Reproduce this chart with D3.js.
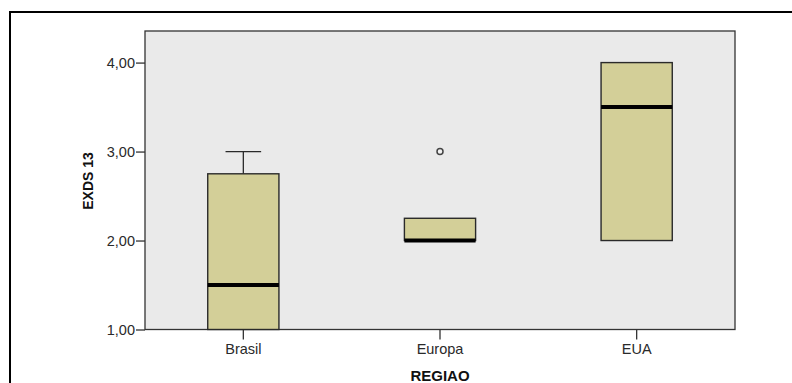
<!DOCTYPE html>
<html>
<head>
<meta charset="utf-8">
<script src="https://cdn.jsdelivr.net/npm/d3@7"></script>
<style>
  html, body { margin: 0; padding: 0; background: #fff; }
  svg { display: block; }
</style>
</head>
<body>
<div id="chart"></div>
<script>
// ── Data ────────────────────────────────────────────────────
const categories = ['Brasil', 'Europa', 'EUA'];
const whiskerLow = [1.0, 2.0, 2.0];
const q1 = [1.0, 2.0, 2.0];
const median = [1.5, 2.0, 3.5];
const q3 = [2.75, 2.25, 4.0];
const whiskerHigh = [3.0, 2.25, 4.0];
const outliers = [{ cat: 'Europa', value: 3.0 }];
const yTicks = [1, 2, 3, 4];

const width = 792, height = 383;
const plot = { left: 145, top: 31, right: 735, bottom: 329.5 };

const svg = d3.select('#chart').append('svg')
    .attr('width', width).attr('height', height);

// Outer frame (extends past the window on right/bottom)
svg.append('rect')
    .attr('x', 10).attr('y', 12)
    .attr('width', 800).attr('height', 400)
    .attr('fill', 'none').attr('stroke', '#000').attr('stroke-width', 2);

const x = d3.scaleBand().domain(categories)
    .range([plot.left, plot.right]).padding(0);
const y = d3.scaleLinear().domain([1, 4.355])
    .range([plot.bottom, plot.top]);

// Plot background
svg.append('rect')
    .attr('x', plot.left).attr('y', plot.top)
    .attr('width', plot.right - plot.left).attr('height', plot.bottom - plot.top)
    .attr('fill', '#eaeaea').attr('stroke', '#333').attr('stroke-width', 1.3);

// ── Axes ────────────────────────────────────────────────────
const fmt = d => d3.format('.2f')(d).replace('.', ',');
const yAxis = svg.append('g')
    .attr('transform', `translate(${plot.left},0)`)
    .call(d3.axisLeft(y).tickValues(yTicks).tickFormat(fmt).tickSize(9).tickSizeOuter(0));
yAxis.select('.domain').remove();

const xAxis = svg.append('g')
    .attr('transform', `translate(0,${plot.bottom})`)
    .call(d3.axisBottom(x).tickSize(10).tickSizeOuter(0));
xAxis.select('.domain').remove();

svg.selectAll('g.tick line').attr('stroke', '#333').attr('stroke-width', 1.3);
svg.selectAll('g.tick text')
    .attr('fill', '#2a2a2a')
    .style('font-size', '14.5px')
    .style('font-family', 'Liberation Sans, Arial, sans-serif');
yAxis.selectAll('.tick text').attr('x', -10).attr('dy', '0.36em');
xAxis.selectAll('.tick text').attr('y', 14);

svg.append('text')
    .attr('x', 440).attr('y', 381)
    .attr('text-anchor', 'middle')
    .attr('font-family', 'Liberation Sans Narrow, Liberation Sans, Arial, sans-serif')
    .attr('font-weight', 'bold').attr('font-size', 15).attr('fill', '#111')
    .text('REGIAO');

svg.append('text')
    .attr('transform', 'translate(93,181) rotate(-90)')
    .attr('text-anchor', 'middle')
    .attr('font-family', 'Liberation Sans Narrow, Liberation Sans, Arial, sans-serif')
    .attr('font-weight', 'bold').attr('font-size', 14).attr('fill', '#111')
    .text('EXDS 13');

// ── Boxes ───────────────────────────────────────────────────
const boxW = x.bandwidth() * 0.362;
const capW = boxW * 0.5;
const g = svg.append('g');

categories.forEach((c, i) => {
    const cx = x(c) + x.bandwidth() / 2;
    const stroke = '#2a2a2a';
    // whiskers
    if (whiskerHigh[i] > q3[i]) {
        g.append('line').attr('x1', cx).attr('x2', cx)
            .attr('y1', y(q3[i])).attr('y2', y(whiskerHigh[i]))
            .attr('stroke', stroke).attr('stroke-width', 1.3);
        g.append('line').attr('x1', cx - capW / 2).attr('x2', cx + capW / 2)
            .attr('y1', y(whiskerHigh[i])).attr('y2', y(whiskerHigh[i]))
            .attr('stroke', stroke).attr('stroke-width', 1.3);
    }
    if (whiskerLow[i] < q1[i]) {
        g.append('line').attr('x1', cx).attr('x2', cx)
            .attr('y1', y(q1[i])).attr('y2', y(whiskerLow[i]))
            .attr('stroke', stroke).attr('stroke-width', 1.3);
        g.append('line').attr('x1', cx - capW / 2).attr('x2', cx + capW / 2)
            .attr('y1', y(whiskerLow[i])).attr('y2', y(whiskerLow[i]))
            .attr('stroke', stroke).attr('stroke-width', 1.3);
    }
    g.append('rect')
        .attr('x', cx - boxW / 2).attr('y', y(q3[i]))
        .attr('width', boxW).attr('height', y(q1[i]) - y(q3[i]))
        .attr('fill', '#d3cf98').attr('stroke', stroke).attr('stroke-width', 1.4);
    // median
    g.append('line')
        .attr('x1', cx - boxW / 2).attr('x2', cx + boxW / 2)
        .attr('y1', y(median[i])).attr('y2', y(median[i]))
        .attr('stroke', '#000').attr('stroke-width', 4);
});

// Outliers
g.selectAll('.outlier').data(outliers).join('circle')
    .attr('class', 'outlier')
    .attr('cx', d => x(d.cat) + x.bandwidth() / 2)
    .attr('cy', d => y(d.value))
    .attr('r', 3)
    .attr('fill', '#f2f2f2').attr('stroke', '#444').attr('stroke-width', 1.5);
</script>
</body>
</html>
